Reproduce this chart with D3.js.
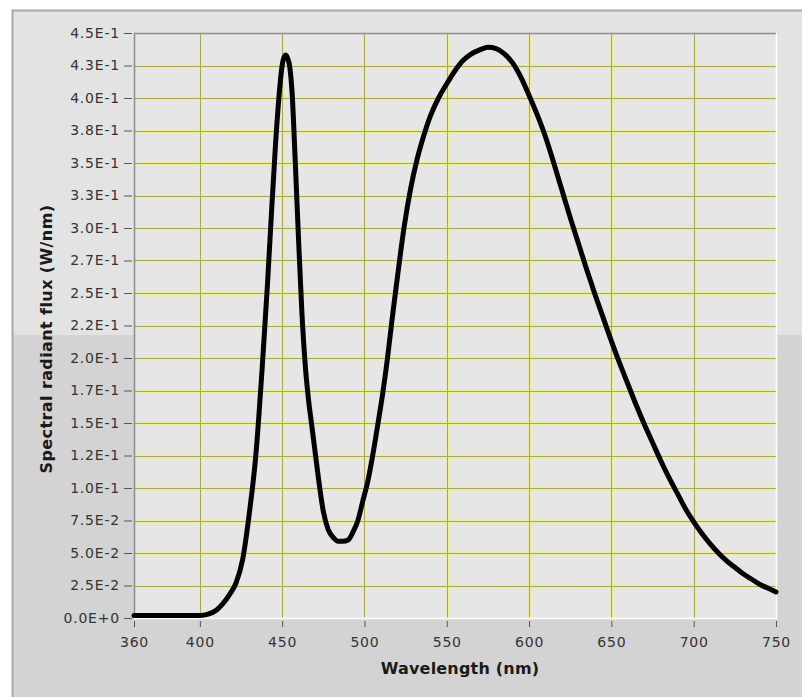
<!DOCTYPE html>
<html>
<head>
<meta charset="utf-8">
<script src="https://cdn.jsdelivr.net/npm/d3@7"></script>
<style>
  body { margin: 0; background: #ffffff; }
  svg { display: block; }
</style>
</head>
<body>
<script>
// wavelength samples (nm)
var wavelengths = [360, 370, 380, 390, 400, 405, 410, 414, 418, 422, 426, 430, 434, 438, 441, 443,
    446, 448, 450, 452, 454, 456, 458, 460, 462, 464, 466, 468, 470, 472, 475, 478, 481, 484,
    487, 490, 493, 496, 499, 502, 505, 508, 511, 514, 517, 520, 524, 528, 532, 536, 540, 545,
    550, 555, 560, 565, 570, 575, 580, 585, 590, 595, 600, 605, 610, 615, 620, 625, 630, 635,
    640, 645, 650, 655, 660, 665, 670, 675, 680, 685, 690, 695, 700, 705, 710, 715, 720, 725,
    730, 735, 740, 745, 750];

// spectral radiant flux (W/nm) at each wavelength
var flux = [0.002, 0.002, 0.002, 0.002, 0.002, 0.003, 0.006, 0.011, 0.018, 0.027, 0.045, 0.080,
    0.125, 0.195, 0.255, 0.300, 0.365, 0.400, 0.425, 0.433, 0.428, 0.405, 0.350, 0.290, 0.235,
    0.195, 0.168, 0.148, 0.128, 0.108, 0.082, 0.068, 0.062, 0.059, 0.059, 0.060, 0.066, 0.075,
    0.090, 0.105, 0.125, 0.148, 0.172, 0.200, 0.232, 0.262, 0.300, 0.330, 0.353, 0.371, 0.386,
    0.400, 0.411, 0.421, 0.429, 0.434, 0.437, 0.439, 0.438, 0.434, 0.427, 0.416, 0.402, 0.387,
    0.370, 0.350, 0.329, 0.308, 0.288, 0.268, 0.249, 0.231, 0.213, 0.196, 0.180, 0.164, 0.149,
    0.135, 0.121, 0.108, 0.096, 0.084, 0.074, 0.065, 0.057, 0.050, 0.044, 0.039, 0.034, 0.030,
    0.026, 0.023, 0.020];

// axis ticks and the labels as the instrument prints them
var xTicks = [360, 400, 450, 500, 550, 600, 650, 700, 750];
var yTicks = [0, 0.025, 0.05, 0.075, 0.1, 0.125, 0.15, 0.175, 0.2, 0.225, 0.25, 0.275, 0.3,
    0.325, 0.35, 0.375, 0.4, 0.425, 0.45];
var yTickLabels = ['0.0E+0', '2.5E-2', '5.0E-2', '7.5E-2', '1.0E-1', '1.2E-1', '1.5E-1', '1.7E-1',
    '2.0E-1', '2.2E-1', '2.5E-1', '2.7E-1', '3.0E-1', '3.3E-1', '3.5E-1', '3.8E-1', '4.0E-1',
    '4.3E-1', '4.5E-1'];

var W = 802, H = 697;

// plot area inside the panel
var margin = { top: 33, right: 26, bottom: 79, left: 134 };
var width = W - margin.left - margin.right;
var height = H - margin.top - margin.bottom;

var svg = d3.select('body').append('svg')
    .attr('width', W)
    .attr('height', H);

// panel background: lighter top half, darker lower half
svg.append('rect')
    .attr('x', 12).attr('y', 10)
    .attr('width', W).attr('height', H)
    .attr('fill', '#e3e3e3');
svg.append('rect')
    .attr('x', 12).attr('y', 335)
    .attr('width', W).attr('height', H)
    .attr('fill', '#d3d3d3');
// panel border
svg.append('path')
    .attr('d', 'M12.5,' + H + ' V10.5 H' + W)
    .attr('fill', 'none')
    .attr('stroke', '#a8a8a8')
    .attr('stroke-width', 2);

var x = d3.scaleLinear().domain([360, 750]).range([0, width]);
var y = d3.scaleLinear().domain([0, 0.45]).range([height, 0]);

var g = svg.append('g')
    .attr('transform', 'translate(' + margin.left + ',' + margin.top + ')');

// plot area fill
g.append('rect')
    .attr('width', width)
    .attr('height', height)
    .attr('fill', '#e6e6e6');

// grid lines: soft yellow halo under an olive line
var grid = g.append('g').attr('class', 'grid');
[['#ecec9c', 3], ['#acac3c', 1]].forEach(function(st) {
    grid.selectAll(null)
        .data(yTicks.slice(1, -1))
        .enter().append('line')
        .attr('x1', 0).attr('x2', width)
        .attr('y1', function(d) { return Math.round(y(d)) + 0.5; })
        .attr('y2', function(d) { return Math.round(y(d)) + 0.5; })
        .attr('stroke', st[0])
        .attr('stroke-width', st[1]);
    grid.selectAll(null)
        .data(xTicks.slice(1, -1))
        .enter().append('line')
        .attr('y1', 0).attr('y2', height)
        .attr('x1', function(d) { return Math.round(x(d)) + 0.5; })
        .attr('x2', function(d) { return Math.round(x(d)) + 0.5; })
        .attr('stroke', st[0])
        .attr('stroke-width', st[1]);
});

// plot frame: dark top/left, white bottom/right
g.append('path')
    .attr('d', 'M0.5,' + height + ' V0.5 H' + width)
    .attr('fill', 'none')
    .attr('stroke', '#8c8c8c')
    .attr('stroke-width', 1.5);
g.append('path')
    .attr('d', 'M0,' + (height + 0.5) + ' H' + (width + 0.5) + ' V0')
    .attr('fill', 'none')
    .attr('stroke', '#ffffff')
    .attr('stroke-width', 1.5);

// the spectrum
var points = wavelengths.map(function(w, i) { return [w, flux[i]]; });
var line = d3.line()
    .x(function(d) { return x(d[0]); })
    .y(function(d) { return y(d[1]); })
    .curve(d3.curveMonotoneX);

g.append('path')
    .datum(points)
    .attr('fill', 'none')
    .attr('stroke', '#000000')
    .attr('stroke-width', 5)
    .attr('stroke-linejoin', 'round')
    .attr('stroke-linecap', 'round')
    .attr('d', line);

// axes
var xAxis = d3.axisBottom(x)
    .tickValues(xTicks)
    .tickFormat(d3.format('d'))
    .tickSize(6)
    .tickPadding(10);
var yAxis = d3.axisLeft(y)
    .tickValues(yTicks)
    .tickFormat(function(d, i) { return yTickLabels[i]; })
    .tickSize(8)
    .tickPadding(4);

var gx = g.append('g')
    .attr('transform', 'translate(0,' + (height + 3) + ')')
    .call(xAxis);
var gy = g.append('g')
    .attr('transform', 'translate(-2,0)')
    .call(yAxis);

[gx, gy].forEach(function(a) {
    a.select('.domain').remove();
    a.selectAll('.tick line').attr('stroke', '#555555');
    a.selectAll('.tick text')
        .attr('fill', '#333333')
        .style('font-family', 'DejaVu Sans, sans-serif')
        .style('font-size', '14px')
        .style('letter-spacing', '0.8px');
});

// axis titles
svg.append('text')
    .attr('x', 460)
    .attr('y', 674)
    .attr('text-anchor', 'middle')
    .style('font-family', 'DejaVu Sans, sans-serif')
    .style('font-size', '16px')
    .style('font-weight', 'bold')
    .style('letter-spacing', '0.2px')
    .attr('fill', '#1a1a1a')
    .text('Wavelength (nm)');

svg.append('text')
    .attr('transform', 'translate(52,339) rotate(-90)')
    .attr('text-anchor', 'middle')
    .style('font-family', 'DejaVu Sans, sans-serif')
    .style('font-size', '16px')
    .style('font-weight', 'bold')
    .style('letter-spacing', '0.4px')
    .attr('fill', '#1a1a1a')
    .text('Spectral radiant flux (W/nm)');
</script>
</body>
</html>
